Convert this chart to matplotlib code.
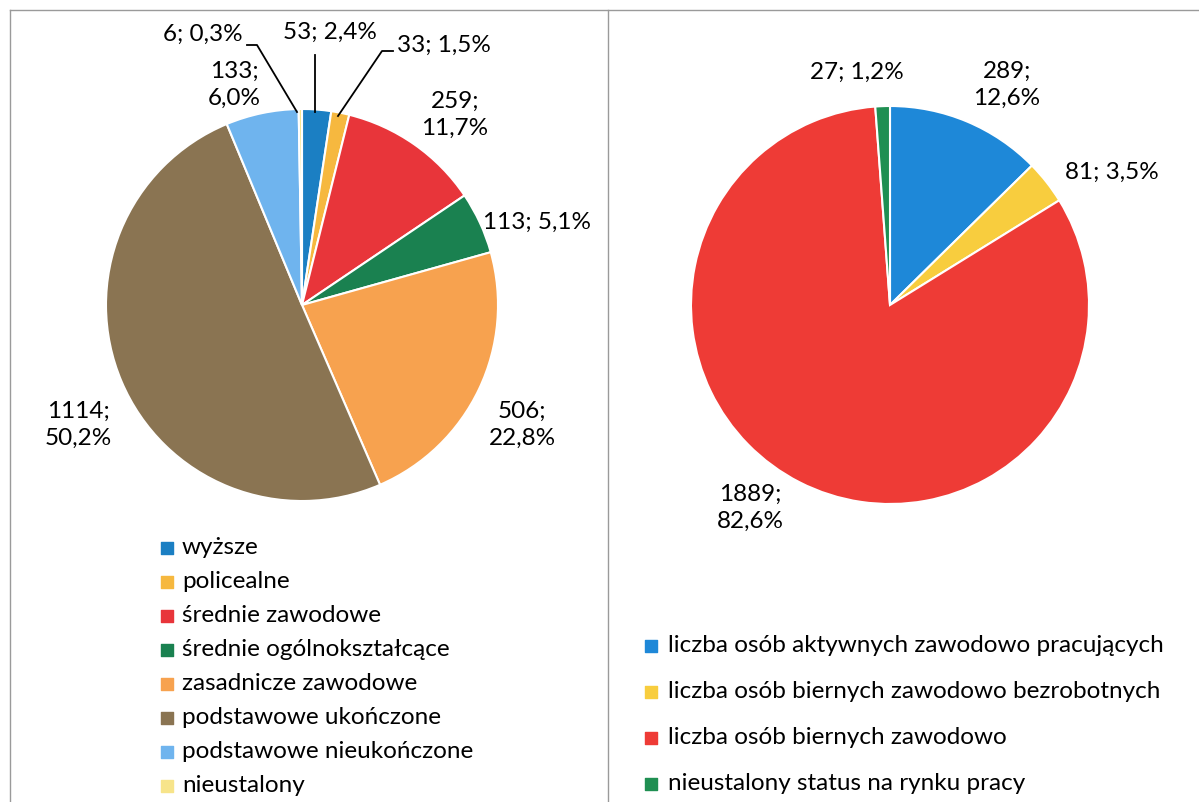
import matplotlib.pyplot as plt
from matplotlib.lines import Line2D

plt.rcParams['font.family'] = ['Lato', 'DejaVu Sans']

# left pie: education
edu_labels = ['wyższe', 'policealne', 'średnie zawodowe', 'średnie ogólnokształcące',
              'zasadnicze zawodowe', 'podstawowe ukończone', 'podstawowe nieukończone',
              'nieustalony']
edu_values = [53, 33, 259, 113, 506, 1114, 133, 6]
edu_pct = ['2,4%', '1,5%', '11,7%', '5,1%', '22,8%', '50,2%', '6,0%', '0,3%']
edu_colors = ['#1b7fc3', '#f6b83f', '#e8353a', '#1a8150', '#f7a24f', '#8a7452', '#6fb4ee', '#f7e48a']

# right pie: labour market status
work_labels = ['liczba osób aktywnych zawodowo pracujących',
               'liczba osób biernych zawodowo bezrobotnych',
               'liczba osób biernych zawodowo',
               'nieustalony status na rynku pracy']
work_values = [289, 81, 1889, 27]
work_pct = ['12,6%', '3,5%', '82,6%', '1,2%']
work_colors = ['#1e88d8', '#f8cd3e', '#ee3b36', '#1f8f52']

W, H = 1199, 802
FS = 17.5
fig = plt.figure(figsize=(W / 100, H / 100), dpi=100)

# panel frames
frame = fig.add_axes([0, 0, 1, 1])
frame.set_xlim(0, W)
frame.set_ylim(H, 0)
frame.axis('off')
for xs, ys in [([10, 10], [10, 802]), ([608, 608], [10, 802]), ([10, 1199], [10, 10])]:
    frame.add_line(Line2D(xs, ys, color='#9a9a9a', lw=1))


def pie_axes(cx, cy, r):
    half = 1.5 * r
    ax = fig.add_axes([(cx - half) / W, (H - cy - half) / H, 2 * half / W, 2 * half / H])
    return ax


def to_data(px, py, cx, cy, r):
    return (px - cx) / r, -(py - cy) / r


def fix(ax):
    ax.set_xlim(-1.5, 1.5)
    ax.set_ylim(-1.5, 1.5)
    ax.axis('off')


# left pie
lcx, lcy, lr = 302, 305, 196
ax1 = pie_axes(lcx, lcy, lr)
ax1.pie(edu_values, colors=edu_colors, startangle=90, counterclock=False, radius=1,
        wedgeprops=dict(edgecolor='white', linewidth=1.5))
fix(ax1)

left_pos = [(330, 32), (444, 45), (455, 115), (537, 222), (522, 425), (78, 425), (234, 85), (203, 34)]
two_line = [False, False, True, False, True, True, True, False]
for v, p, pos, tl in zip(edu_values, edu_pct, left_pos, two_line):
    txt = f'{v};\n{p}' if tl else f'{v}; {p}'
    x, y = to_data(*pos, lcx, lcy, lr)
    ax1.text(x, y, txt, ha='center', va='center', fontsize=FS, linespacing=1.35)

# leader lines for small slices
for pts in [[(315, 112), (315, 55)],
            [(338, 116), (382, 51), (393, 51)],
            [(297, 112), (257, 45), (247, 45)]]:
    d = [to_data(px, py, lcx, lcy, lr) for px, py in pts]
    ax1.plot([a for a, b in d], [b for a, b in d], color='black', lw=1.3)

# right pie
rcx, rcy, rr = 890, 305, 199
ax2 = pie_axes(rcx, rcy, rr)
ax2.pie(work_values, colors=work_colors, startangle=90, counterclock=False, radius=1,
        wedgeprops=dict(edgecolor='white', linewidth=1.5))
fix(ax2)

right_pos = [(1007, 85), (1112, 172), (750, 508), (857, 72)]
two_line_r = [True, False, True, False]
for v, p, pos, tl in zip(work_values, work_pct, right_pos, two_line_r):
    txt = f'{v};\n{p}' if tl else f'{v}; {p}'
    x, y = to_data(*pos, rcx, rcy, rr)
    ax2.text(x, y, txt, ha='center', va='center', fontsize=FS, linespacing=1.35)

# legends
for i, (lab, c) in enumerate(zip(edu_labels, edu_colors)):
    y = 548 + i * 34
    frame.scatter(167, y, marker='s', s=70, color=c)
    frame.text(182, y, lab, va='center', ha='left', fontsize=FS)

for i, (lab, c) in enumerate(zip(work_labels, work_colors)):
    y = 646 + i * 46
    frame.scatter(651, y, marker='s', s=70, color=c)
    frame.text(668, y, lab, va='center', ha='left', fontsize=FS)

fig.savefig('out.png', dpi=100)
